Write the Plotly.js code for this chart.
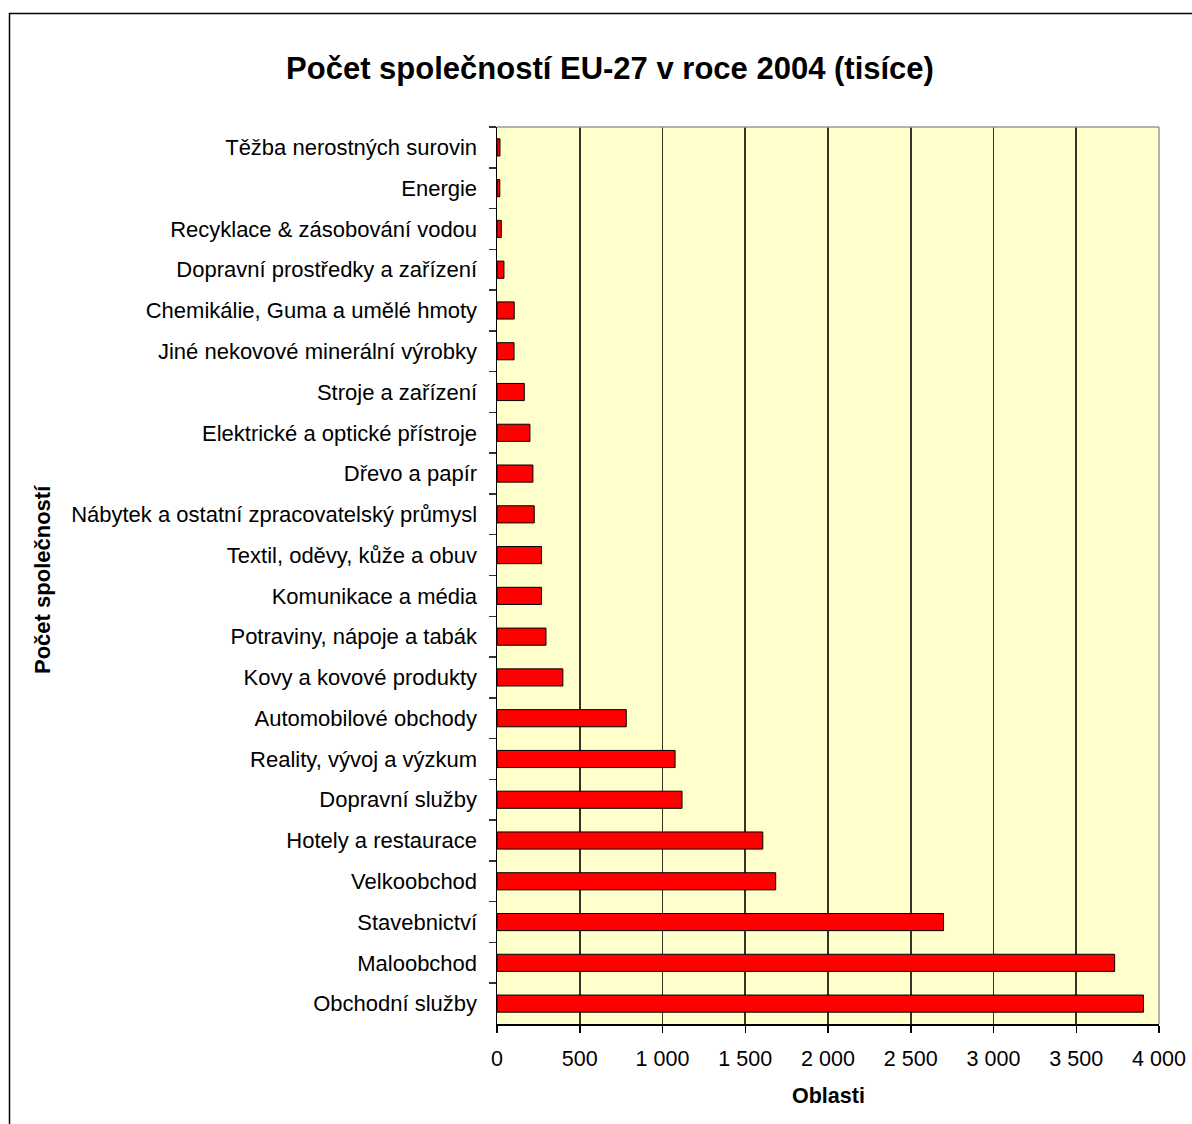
<!DOCTYPE html>
<html>
<head>
<meta charset="utf-8">
<script src="https://cdn.plot.ly/plotly-3.0.1.min.js"></script>
<style>
html,body{margin:0;padding:0;background:#fff;}
#chart{width:1192px;height:1124px;}
</style>
</head>
<body>
<div id="chart"></div>
<script>
const categories = [
  "Těžba nerostných surovin",
  "Energie",
  "Recyklace & zásobování vodou",
  "Dopravní prostředky a zařízení",
  "Chemikálie, Guma a umělé hmoty",
  "Jiné nekovové minerální výrobky",
  "Stroje a zařízení",
  "Elektrické a optické přístroje",
  "Dřevo a papír",
  "Nábytek a ostatní zpracovatelský průmysl",
  "Textil, oděvy, kůže a obuv",
  "Komunikace a média",
  "Potraviny, nápoje a tabák",
  "Kovy a kovové produkty",
  "Automobilové obchody",
  "Reality, vývoj a výzkum",
  "Dopravní služby",
  "Hotely a restaurace",
  "Velkoobchod",
  "Stavebnictví",
  "Maloobchod",
  "Obchodní služby"
];
const values = [18, 17, 26, 42, 104, 103, 165, 199, 217, 225, 269, 269, 296, 398, 781, 1076, 1118, 1606, 1684, 2698, 3732, 3906];
const xTickValues = [0, 500, 1000, 1500, 2000, 2500, 3000, 3500, 4000];

const plotL = 497, plotR = 1159, plotT = 127, plotB = 1024;
const W = 1192, H = 1124;
const pw = plotR - plotL, ph = plotB - plotT;
const px = v => (v - plotL) / pw;
const py = v => (plotB - v) / ph;
const FONT = 'Liberation Sans, Arial, sans-serif';

const trace = {
  type: 'bar',
  orientation: 'h',
  y: categories,
  x: values,
  width: 0.42,
  marker: {color: '#FF0000', line: {color: '#000000', width: 1}},
  hoverinfo: 'x+y'
};

const layout = {
  width: W, height: H,
  margin: {l: plotL, r: W - plotR, t: plotT, b: H - plotB, pad: 0},
  paper_bgcolor: '#FFFFFF',
  plot_bgcolor: '#FFFFCC',
  separators: ', ',
  font: {family: FONT, size: 21.5, color: '#000'},
  showlegend: false,
  title: {
    text: '<b>Počet společností EU-27 v roce 2004 (tisíce)</b>',
    font: {size: 31, family: FONT, color: '#000'},
    xref: 'container', yref: 'container',
    x: 610 / W, y: 1 - 68 / H, xanchor: 'center', yanchor: 'middle'
  },
  xaxis: {
    range: [0, 4000],
    tickvals: xTickValues,
    tickformat: ',d',
    showgrid: true,
    gridcolor: '#333328',
    gridwidth: 1.6,
    zeroline: false,
    showline: true,
    linecolor: '#000',
    linewidth: 1.5,
    ticks: 'outside',
    ticklen: 7,
    tickcolor: '#000',
    tickwidth: 1.5,
    ticklabelstandoff: 8,
    tickfont: {size: 21.5},
    fixedrange: true
  },
  yaxis: {
    type: 'category',
    autorange: 'reversed',
    showgrid: false,
    zeroline: false,
    showline: true,
    linecolor: '#000',
    linewidth: 1.5,
    ticks: 'outside',
    tickson: 'boundaries',
    ticklen: 7,
    tickcolor: '#333',
    tickwidth: 1.5,
    ticklabelstandoff: 14,
    tickfont: {size: 22},
    fixedrange: true
  },
  shapes: [
    {type: 'line', xref: 'paper', yref: 'paper', x0: 0, x1: 1, y0: 1, y1: 1, line: {color: '#999999', width: 1.5}},
    {type: 'line', xref: 'paper', yref: 'paper', x0: 1, x1: 1, y0: 0, y1: 1, line: {color: '#999999', width: 1.5}},
    {type: 'rect', xref: 'paper', yref: 'paper', x0: px(9.5), x1: px(1200), y0: py(1200), y1: py(13.5), line: {color: '#000', width: 1.5}, fillcolor: 'rgba(0,0,0,0)', layer: 'below'}
  ],
  annotations: [
    {text: '<b>Oblasti</b>', xref: 'paper', yref: 'paper', x: px(828), y: py(1096), xanchor: 'center', yanchor: 'middle', showarrow: false, font: {size: 21.5}},
    {text: '<b>Počet společností</b>', xref: 'paper', yref: 'paper', x: px(42), y: py(580), xanchor: 'center', yanchor: 'middle', textangle: -90, showarrow: false, font: {size: 22}}
  ]
};

Plotly.newPlot('chart', [trace], layout, {displayModeBar: false, staticPlot: true});
</script>
</body>
</html>
